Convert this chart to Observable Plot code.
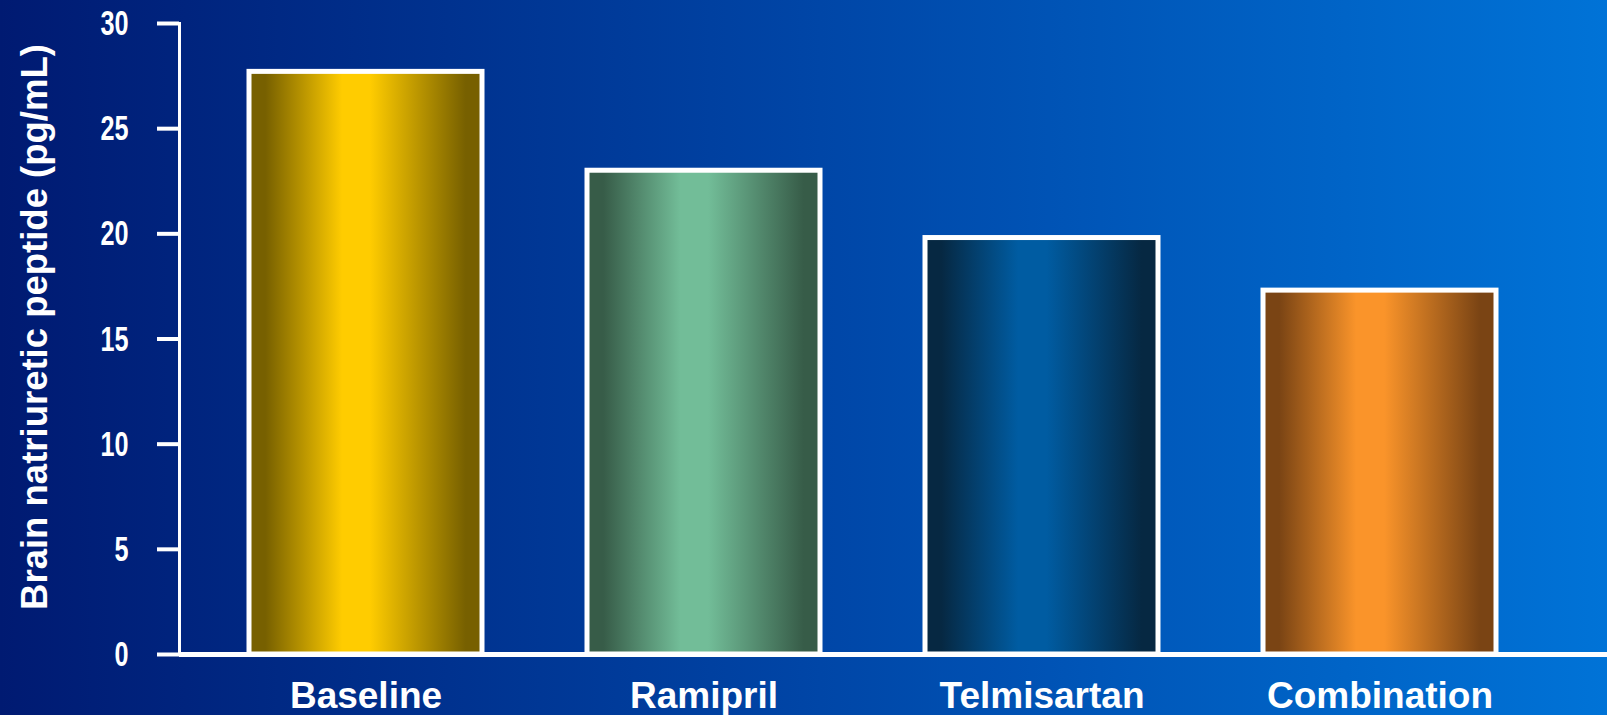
<!DOCTYPE html>
<html>
<head>
<meta charset="utf-8">
<script src="https://cdn.jsdelivr.net/npm/d3@7"></script>
<script src="https://cdn.jsdelivr.net/npm/@observablehq/plot@0.6"></script>
<style>
  html, body { margin: 0; padding: 0; width: 1607px; height: 715px; overflow: hidden;
    background: linear-gradient(to right, #001a72 0%, #0045a6 50%, #0073d7 100%); }
  #chart svg { display: block; background: transparent; }
</style>
</head>
<body>
<div id="chart"></div>
<script>
// ---- data ----
const categories = ["Baseline", "Ramipril", "Telmisartan", "Combination"];
const values = [27.7, 23.0, 19.8, 17.3];
const yTicks = [0, 5, 10, 15, 20, 25, 30];
const yLabel = "Brain natriuretic peptide (pg/mL)";

// ---- styles ----
const edgeColors = ["#776000", "#375c48", "#062842", "#7a4414"];
const midColors = ["#ffcc00", "#72bd98", "#005ca2", "#fa942a"];

const rows = categories.map((c, i) => ({category: c, value: values[i], fill: `url(#grad${i})`}));

const chart = Plot.plot({
  width: 1607,
  height: 715,
  marginTop: 23,
  marginBottom: 61,
  marginLeft: 179,
  marginRight: 0,
  style: {background: "transparent", color: "white", overflow: "visible"},
  x: {domain: categories, range: [143, 1603], padding: 0.31, label: null},
  y: {domain: [0, 30], label: null},
  color: {type: "identity"},
  marks: [
    Plot.barY(rows, {x: "category", y: "value", fill: "fill", stroke: "white", strokeWidth: 5}),
    Plot.frame({anchor: "left", stroke: "white", strokeWidth: 3}),
    Plot.ruleY([0], {stroke: "white", strokeWidth: 5}),
    Plot.axisY({ticks: yTicks, tickSize: 22, tickPadding: 29, strokeWidth: 4, stroke: "white",
      fill: "white", fontSize: 36, fontWeight: "bold", fontFamily: "Liberation Sans, Arial, sans-serif", label: null}),
    Plot.axisX({tickSize: 0, tickPadding: 27, fontSize: 37, fontWeight: "bold", fill: "white",
      fontFamily: "Liberation Sans, Arial, sans-serif", label: null})
  ]
});

const svg = d3.select(chart);
const defs = svg.insert("defs", ":first-child");
categories.forEach((c, i) => {
  const g = defs.append("linearGradient").attr("id", `grad${i}`)
    .attr("x1", "0%").attr("x2", "100%").attr("y1", "0%").attr("y2", "0%");
  [[0, edgeColors[i]], [7, edgeColors[i]], [40, midColors[i]], [52, midColors[i]], [93, edgeColors[i]], [100, edgeColors[i]]]
    .forEach(([o, col]) => g.append("stop").attr("offset", o + "%").attr("stop-color", col));
});

// narrow the y tick labels like the reference's condensed digits
svg.selectAll('g[aria-label="y-axis tick label"] text').each(function() {
  const t = d3.select(this);
  t.attr("transform", (t.attr("transform") || "") + " scale(0.7,1)");
});

// y-axis title
svg.append("text")
  .attr("transform", "translate(47,327) rotate(-90)")
  .attr("text-anchor", "middle")
  .attr("fill", "white")
  .attr("font-family", "Liberation Sans, Arial, sans-serif")
  .attr("font-weight", "bold")
  .attr("font-size", 36.5)
  .text(yLabel);

document.getElementById("chart").appendChild(chart);
</script>
</body>
</html>
